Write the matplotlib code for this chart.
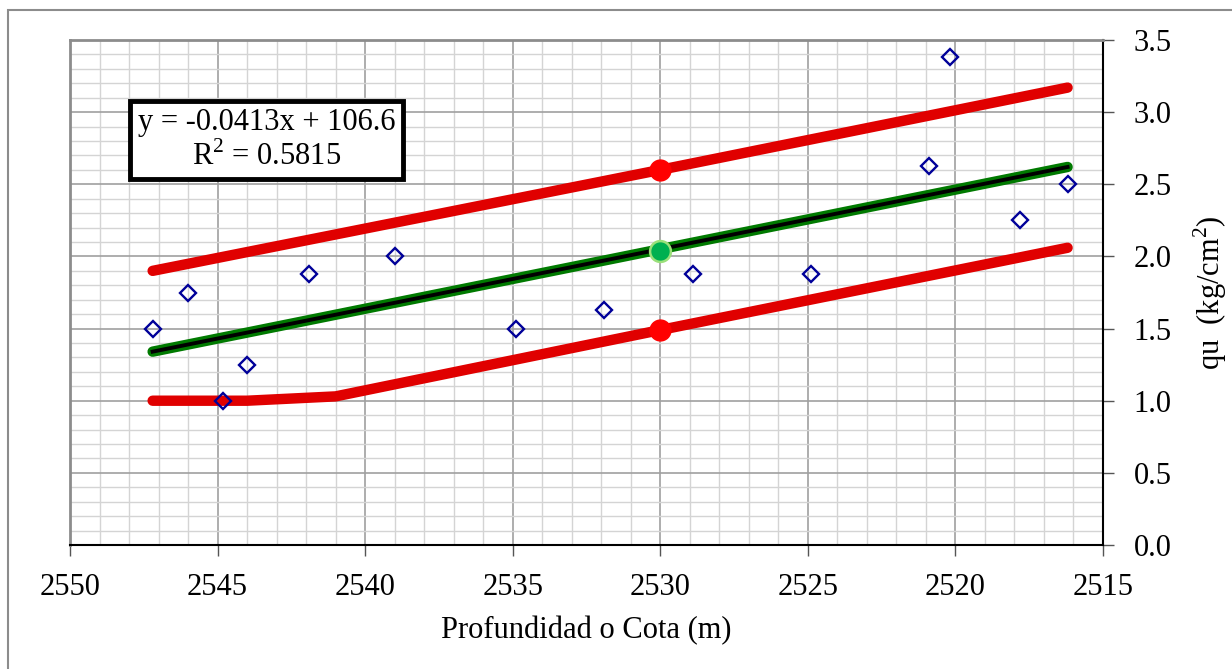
import matplotlib
matplotlib.use('Agg')
import matplotlib.pyplot as plt
from matplotlib.patches import Rectangle
from matplotlib.ticker import MultipleLocator

# Measured points (elevation in m, qu in kg/cm2)
cota = [2547.2, 2546.0, 2544.8, 2544.0, 2541.9, 2539.0, 2534.9,
        2531.9, 2528.9, 2524.9, 2520.9, 2520.2, 2517.8, 2516.2]
qu = [1.50, 1.75, 1.00, 1.25, 1.88, 2.00, 1.50,
      1.63, 1.88, 1.88, 2.63, 3.38, 2.25, 2.50]

# Linear trend line (end points)
trend_x = [2547.2, 2516.2]
trend_y = [1.34, 2.62]

# Upper and lower design lines
upper_x = [2547.2, 2530.0, 2516.2]
upper_y = [1.90, 2.60, 3.17]
lower_x = [2547.2, 2544.0, 2541.0, 2530.0, 2516.2]
lower_y = [1.00, 1.00, 1.03, 1.49, 2.06]

# Design values at the reference elevation
ref_x = 2530.0
ref_upper = 2.60
ref_mid = 2.04
ref_lower = 1.49

eq_text = 'y = -0.0413x + 106.6\nR$^2$ = 0.5815'

plt.rcParams['font.family'] = ['Liberation Serif', 'DejaVu Serif']
plt.rcParams['mathtext.fontset'] = 'custom'
plt.rcParams['mathtext.rm'] = 'Liberation Serif'

FS = 22

fig = plt.figure(figsize=(12.32, 6.69), dpi=100)
fig.patches.append(Rectangle((8 / 1232, -0.1), 1.2, 1 - 10 / 669 + 0.1,
                             transform=fig.transFigure, fill=False,
                             edgecolor='#8c8c8c', linewidth=1.5))
ax = fig.add_axes([70 / 1232, 1 - 545 / 669, 1033 / 1232, 505 / 669])

ax.set_xlim(2550, 2515)
ax.set_ylim(0, 3.5)
ax.xaxis.set_major_locator(MultipleLocator(5))
ax.xaxis.set_minor_locator(MultipleLocator(1))
ax.yaxis.set_major_locator(MultipleLocator(0.5))
ax.yaxis.set_minor_locator(MultipleLocator(0.1))
ax.yaxis.tick_right()
ax.yaxis.set_label_position('right')
ax.yaxis.set_major_formatter(matplotlib.ticker.FormatStrFormatter('%.1f'))

ax.grid(True, which='major', color='#a0a0a0', linewidth=1.2, zorder=0)
ax.grid(True, which='minor', color='#d4d4d4', linewidth=1.0, zorder=0)
ax.set_axisbelow(True)

ax.tick_params(which='major', direction='out', length=8, width=1,
               labelsize=FS, color='#555555')
ax.tick_params(which='minor', length=0)
ax.tick_params(axis='x', pad=12)
ax.tick_params(axis='y', pad=14)

ax.spines['left'].set_color('#8c8c8c')
ax.spines['left'].set_linewidth(2)
ax.spines['top'].set_color('#8c8c8c')
ax.spines['top'].set_linewidth(2)
ax.spines['right'].set_color('black')
ax.spines['right'].set_linewidth(1.5)
ax.spines['bottom'].set_color('black')
ax.spines['bottom'].set_linewidth(1.5)

# Design lines
ax.plot(upper_x, upper_y, color='#e00000', linewidth=7.5,
        solid_capstyle='round', zorder=3)
ax.plot(lower_x, lower_y, color='#e00000', linewidth=7.5,
        solid_capstyle='round', zorder=3)
ax.plot(trend_x, trend_y, color='#007a00', linewidth=7.5,
        solid_capstyle='round', zorder=3)
ax.plot(trend_x, trend_y, color='black', linewidth=2.8, zorder=4)

# Measured data
ax.plot(cota, qu, linestyle='none', marker='D', markersize=8.5,
        markerfacecolor='none', markeredgecolor='#000099',
        markeredgewidth=1.7, zorder=5)

# Reference markers
ax.plot([ref_x, ref_x], [ref_upper, ref_lower], linestyle='none', marker='o',
        markersize=15, color='red', zorder=6)
ax.plot([ref_x], [ref_mid], linestyle='none', marker='o', markersize=15,
        markerfacecolor='#00b050', markeredgecolor='#9be07a',
        markeredgewidth=1.8, zorder=6)

ax.text(0.19, 0.802, eq_text, transform=ax.transAxes, ha='center',
        va='center', fontsize=FS, linespacing=1.15, zorder=7,
        bbox=dict(boxstyle='square,pad=0.25', facecolor='white',
                  edgecolor='black', linewidth=3.5))

ax.set_xlabel('Profundidad o Cota (m)', fontsize=FS, labelpad=10)
ax.set_ylabel('qu  (kg/cm$^{2}$)', fontsize=FS, labelpad=14, rotation=90)

fig.savefig('out.png', dpi=100)
